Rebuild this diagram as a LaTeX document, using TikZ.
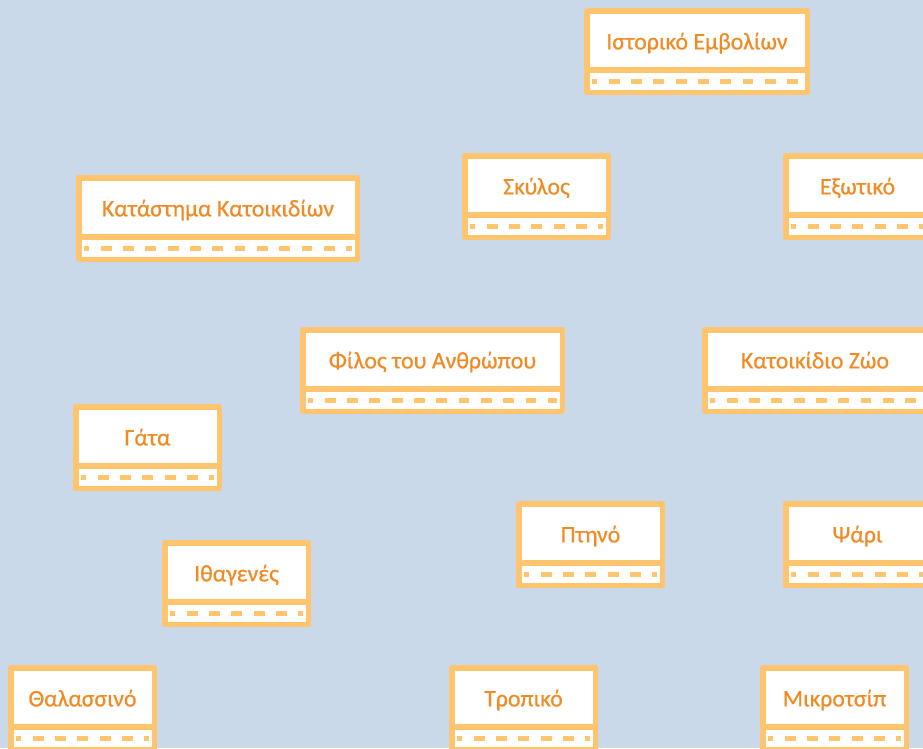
\documentclass[tikz,border=0pt]{standalone}
\usepackage{fontspec}
\setmainfont{Carlito}[UprightFeatures={FakeBold=0.5}]
\usetikzlibrary{positioning}
\definecolor{bgblue}{RGB}{201,217,233}
\definecolor{frameorange}{RGB}{255,196,110}
\definecolor{textorange}{RGB}{242,138,36}
\begin{document}
\begin{tikzpicture}[x=1pt, y=-1pt, line join=round, line cap=butt,
		entity/.style={draw=frameorange, line width=5.5pt, fill=white, outer sep=0pt, inner sep=0pt,
			minimum height=59.25pt, text height=20pt, text depth=2pt, text=textorange,
			font=\fontsize{23.8}{28}\selectfont},
		entfoot/.style={draw=frameorange, line width=5.5pt, fill=white, outer sep=0pt, inner sep=0pt,
			minimum height=22.25pt},
		entdash/.style={draw=frameorange, line width=5pt, dash pattern=on 10.8pt off 11.5pt, dash phase=5.2pt}]
	\fill[bgblue] (0,0) rectangle (923,748);
	\useasboundingbox (0,0) rectangle (923,748);
	% name / centre x / top y / width / label
	\foreach \n/\x/\t/\w/\lbl in {
			hist/697/8/220.5/Ιστορικό Εμβολίων,
			dog/536.5/153/143.5/Σκύλος,
			exotic/857.5/153/143.5/Εξωτικό,
			shop/218/175/278.5/Κατάστημα Κατοικιδίων,
			friend/432.5/327/259.5/Φίλος του Ανθρώπου,
			pet/815/327/220.5/Κατοικίδιο Ζώο,
			cat/147.5/404/143.5/Γάτα,
			bird/590.5/501/143.5/Πτηνό,
			fish/857.5/501/143.5/Ψάρι,
			native/236.5/540/143.5/Ιθαγενές,
			sea/82.5/665/143.5/Θαλασσινό,
			tropic/523.5/665/143.5/Τροπικό,
			chip/834.5/665/143.5/Μικροτσίπ}{
		\node[entity, minimum width=\w pt] (\n) at (\x,\t+32.4) {\lbl};
		\node[entfoot, minimum width=\w pt, below=0pt of \n] (\n-foot) {};
		\draw[entdash] ([xshift=5pt]\n-foot.west) -- ([xshift=-5pt]\n-foot.east);
	}
\end{tikzpicture}
\end{document}
